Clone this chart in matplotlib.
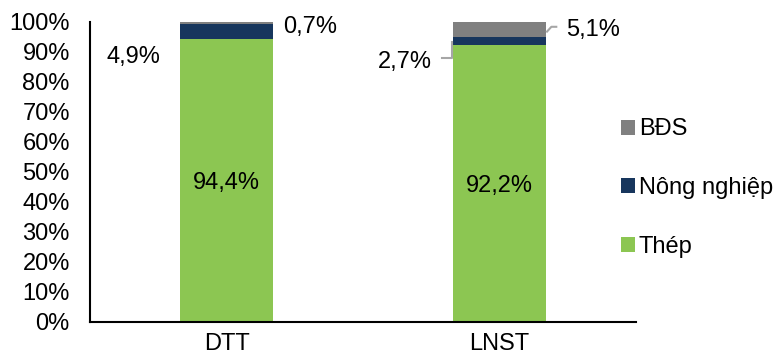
import matplotlib
matplotlib.use("Agg")
import matplotlib.pyplot as plt
from matplotlib.patches import Patch
from matplotlib.transforms import offset_copy
import numpy as np

categories = ["DTT", "LNST"]
thep = [94.4, 92.2]
nong_nghiep = [4.9, 2.7]
bds = [0.7, 5.1]
series_names = ["Thép", "Nông nghiệp", "BĐS"]
yticks = [0, 10, 20, 30, 40, 50, 60, 70, 80, 90, 100]

colors = ["#8CC652", "#17365D", "#808080"]
plt.rcParams['font.family'] = ['Liberation Sans', 'DejaVu Sans']
FS = 17

fig = plt.figure(figsize=(7.76, 3.6), dpi=100)
ax = fig.add_axes([90/776, 38/360, 546/776, 300/360])

x = np.arange(len(categories))
w = 0.34
bottoms = np.zeros(len(categories))
for vals, col in zip([thep, nong_nghiep, bds], colors):
    ax.bar(x, vals, w, bottom=bottoms, color=col, edgecolor='none')
    bottoms = bottoms + np.array(vals)

ax.set_xlim(-0.5, 1.5)
ax.set_ylim(0, 100)
ax.set_yticks(yticks)
ax.set_yticklabels([f"{v}%" for v in yticks], fontsize=FS)
ax.set_xticks(x)
ax.set_xticklabels(categories, fontsize=FS)
ax.tick_params(axis='both', length=0)
ax.tick_params(axis='y', pad=14.5)
ax.tick_params(axis='x', pad=8)
for s in ['top', 'right']:
    ax.spines[s].set_visible(False)
for s in ['left', 'bottom']:
    ax.spines[s].set_linewidth(1.5)
    ax.spines[s].set_color('black')

fmt = lambda v: f"{v:.1f}%".replace('.', ',')
tr = offset_copy(ax.transData, fig=fig, x=0, y=-2, units='points')

# Thép labels inside bars
for i in range(2):
    ax.text(x[i], thep[i] / 2, fmt(thep[i]), ha='center', va='center', fontsize=FS, transform=tr)

# DTT small labels
ax.text(-0.342, 89.3, fmt(nong_nghiep[0]), ha='center', va='center', fontsize=FS, transform=tr)
ax.text(0.306, 99.3, fmt(bds[0]), ha='center', va='center', fontsize=FS, transform=tr)

# LNST labels with leader lines
lc = '#A6A6A6'
ax.text(0.654, 87.7, fmt(nong_nghiep[1]), ha='center', va='center', fontsize=FS, transform=tr)
ax.plot([0.789, 0.826, 0.826], [88.0, 88.0, 93.2], color=lc, lw=1.5, clip_on=False)
ax.text(1.342, 98.3, fmt(bds[1]), ha='center', va='center', fontsize=FS, transform=tr)
ax.plot([1.174, 1.19, 1.208], [96.8, 98.4, 98.4], color=lc, lw=1.5, clip_on=False)

handles = [Patch(facecolor=c, edgecolor='none') for c in colors][::-1]
labels = series_names[::-1]
fig.legend(handles, labels, loc='center left', bbox_to_anchor=(621/776, 172/360),
           frameon=False, fontsize=FS, handlelength=0.6, handleheight=0.6,
           handletextpad=0.15, labelspacing=1.55, borderpad=0, borderaxespad=0)

fig.savefig("out.png", dpi=100)
